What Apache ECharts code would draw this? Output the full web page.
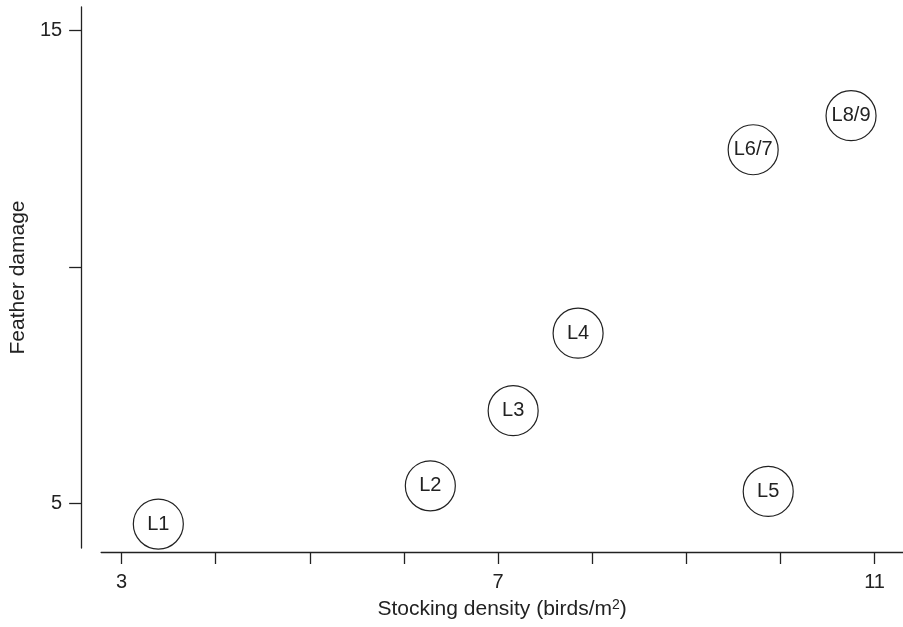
<!DOCTYPE html>
<html>
<head>
<meta charset="utf-8">
<script src="https://cdn.jsdelivr.net/npm/echarts@6/dist/echarts.min.js"></script>
<style>html,body{margin:0;padding:0;background:#fff}#c{width:903px;height:627px}</style>
</head>
<body>
<div id="c"></div>
<script>
const labels = ['L1', 'L2', 'L3', 'L4', 'L5', 'L6/7', 'L8/9'];
const stockingDensity = [3.39, 6.28, 7.16, 7.85, 9.87, 9.71, 10.75];
const featherDamage = [4.56, 5.37, 6.96, 8.60, 5.25, 12.48, 13.20];
const xTicks = [3, 4, 5, 6, 7, 8, 9, 10, 11];
const xTickLabels = [3, 7, 11];
const yTicks = [5, 10, 15];
const yTickLabels = [5, 15];

const font = 'Liberation Sans, Arial, Helvetica, sans-serif';
const fs = 20;
const fsTitle = 21;
const chart = echarts.init(document.getElementById('c'));
chart.setOption({
  animation: false,
  backgroundColor: '#fff',
  grid: { left: 100, right: 0, top: 7, bottom: 79 },
  xAxis: {
    type: 'value',
    min: 2.7825, max: 11.302,
    offset: 4,
    name: 'Stocking density (birds/m{sup|2})',
    nameLocation: 'middle',
    nameGap: 46,
    nameTextStyle: {
      fontFamily: font, fontSize: fsTitle, color: '#222',
      rich: { sup: { fontSize: 14, verticalAlign: 'top', padding: [0,0,8,0], color: '#222', fontFamily: font } }
    },
    axisLine: { show: true, lineStyle: { color: '#222', width: 1.3 } },
    axisTick: { show: true, length: 12, lineStyle: { color: '#222', width: 1.3 }, customValues: xTicks },
    axisLabel: { customValues: xTickLabels, margin: 20, fontFamily: font, fontSize: fs, color: '#222' },
    splitLine: { show: false }
  },
  yAxis: {
    type: 'value',
    min: 4.054, max: 15.50,
    offset: 20,
    name: 'Feather damage',
    nameLocation: 'middle',
    nameGap: 52,
    nameTextStyle: { fontFamily: font, fontSize: fsTitle, color: '#222' },
    axisLine: { show: true, lineStyle: { color: '#222', width: 1.3 } },
    axisTick: { show: true, length: 12, lineStyle: { color: '#222', width: 1.3 }, customValues: yTicks },
    axisLabel: { customValues: yTickLabels, margin: 19, fontFamily: font, fontSize: fs, color: '#222' },
    splitLine: { show: false }
  },
  series: [{
    type: 'scatter',
    symbol: 'circle',
    symbolSize: 50,
    itemStyle: { color: '#fff', borderColor: '#222', borderWidth: 1.2, opacity: 1 },
    label: {
      show: true, position: 'inside',
      formatter: p => p.data[2],
      fontFamily: font, fontSize: fs, color: '#222'
    },
    data: labels.map((l, i) => [stockingDensity[i], featherDamage[i], l])
  }]
});
</script>
</body>
</html>
